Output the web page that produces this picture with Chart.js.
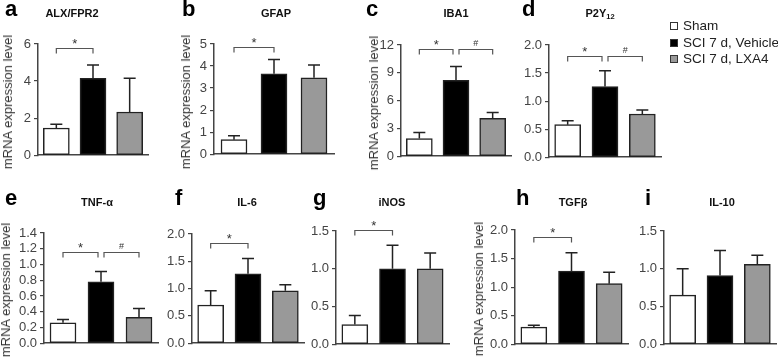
<!DOCTYPE html>
<html>
<head>
<meta charset="utf-8">
<title>mRNA expression</title>
<script src="https://cdn.jsdelivr.net/npm/chart.js"></script>
<style>
  * { margin: 0; padding: 0; box-sizing: border-box; }
  html, body { width: 778px; height: 360px; overflow: hidden; background: #fff;
    font-family: "Liberation Sans", Arial, sans-serif; }
  #fig { position: relative; width: 778px; height: 360px; }
  canvas { position: absolute; }
  .lbl { position: absolute; font-weight: bold; font-size: 22px; line-height: 22px; color: #000; }
  .ttl { position: absolute; font-weight: bold; font-size: 11px; line-height: 11px; color: #111;
    transform: translateX(-50%); white-space: nowrap; }
  .ttl sub { font-size: 7.5px; vertical-align: -2px; }
  .ytl { position: absolute; font-size: 13px; line-height: 14px; color: #333; white-space: nowrap;
    transform: translate(-50%, -50%) rotate(-90deg); }
  .leg { position: absolute; left: 670px; font-size: 13.5px; line-height: 14px; color: #222; white-space: nowrap; }
  .leg i { display: inline-block; width: 8px; height: 8px; border: 1px solid #333; margin-right: 5px; }
</style>
</head>
<body>
<div id="fig"></div>

<script>
  // groups (legend)
  const groups = ['Sham', 'SCI 7 d, Vehicle', 'SCI 7 d, LXA4'];

  // mean and SEM per gene, order = groups
  const alxMean  = [1.47, 4.15, 2.33], alxSem  = [0.20, 0.72, 1.82];
  const gfapMean = [0.66, 3.65, 3.47], gfapSem = [0.18, 0.65, 0.58];
  const ibaMean  = [1.90, 8.20, 4.10], ibaSem  = [0.65, 1.47, 0.62];
  const p2yMean  = [0.58, 1.26, 0.77], p2ySem  = [0.07, 0.28, 0.07];
  const tnfMean  = [0.26, 0.78, 0.33], tnfSem  = [0.04, 0.13, 0.11];
  const il6Mean  = [0.70, 1.27, 0.96], il6Sem  = [0.26, 0.28, 0.11];
  const inosMean = [0.26, 1.00, 1.00], inosSem = [0.12, 0.31, 0.21];
  const tgfMean  = [0.30, 1.28, 1.06], tgfSem  = [0.03, 0.32, 0.20];
  const il10Mean = [0.65, 0.91, 1.06], il10Sem = [0.35, 0.33, 0.12];

  const geneNames = ['ALX/FPR2', 'GFAP', 'IBA1', 'P2Y<sub>12</sub>', 'TNF-α', 'IL-6', 'iNOS', 'TGFβ', 'IL-10'];
  const yMax  = [6, 5, 12, 2, 1.4, 2, 1.5, 2, 1.5];
  const yStep = [2, 1, 3, 0.5, 0.2, 0.5, 0.5, 0.5, 0.5];

  // significance brackets: [from, to, symbol, height]
  const sigMarks = [
    [[0, 1, '*', 5.8]],
    [[0, 1, '*', 4.85]],
    [[0, 1, '*', 11.6], [1, 2, '#', 11.6]],
    [[0, 1, '*', 1.8], [1, 2, '#', 1.8]],
    [[0, 1, '*', 1.16], [1, 2, '#', 1.16]],
    [[0, 1, '*', 1.84]],
    [[0, 1, '*', 1.51]],
    [[0, 1, '*', 1.87]],
    []
  ];

  const means = [alxMean, gfapMean, ibaMean, p2yMean, tnfMean, il6Mean, inosMean, tgfMean, il10Mean];
  const sems  = [alxSem, gfapSem, ibaSem, p2ySem, tnfSem, il6Sem, inosSem, tgfSem, il10Sem];
  const fills = ['#ffffff', '#000000', '#999999'];

  // panel placement: axis x, bar pitch, px of max, px of zero, y-title centre, letter x, title centre, row
  const panels = [
    { k: 'a', x0: 38,  p: 36.5, yT: 44,  yB: 162,   yt: 8,    lx: 5,   tx: 72,  row: 0 },
    { k: 'b', x0: 214, p: 40,   yT: 44,  yB: 161,   yt: 186,  lx: 182, tx: 276, row: 0 },
    { k: 'c', x0: 401, p: 36.6, yT: 45,  yB: 162.5, yt: 374,  lx: 366, tx: 456, row: 0 },
    { k: 'd', x0: 549, p: 37.2, yT: 45,  yB: 163.5, yt: null, lx: 522, tx: 600, row: 0 },
    { k: 'e', x0: 44,  p: 38,   yT: 233, yB: 349.5, yt: 6,    lx: 5,   tx: 97,  row: 1 },
    { k: 'f', x0: 192, p: 37.2, yT: 234, yB: 349.5, yt: null, lx: 175, tx: 247, row: 1 },
    { k: 'g', x0: 336, p: 37.6, yT: 231, yB: 350.5, yt: null, lx: 313, tx: 392, row: 1 },
    { k: 'h', x0: 515, p: 37.5, yT: 230, yB: 350.5, yt: 479,  lx: 516, tx: 573, row: 1 },
    { k: 'i', x0: 664, p: 37.2, yT: 231, yB: 351,   yt: null, lx: 645, tx: 722, row: 1 }
  ];

  const fig = document.getElementById('fig');

  function addText(cls, html, left, top) {
    const d = document.createElement('div');
    d.className = cls;
    d.innerHTML = html;
    d.style.left = left + 'px';
    d.style.top = top + 'px';
    fig.appendChild(d);
  }

  // error bars + brackets
  function overlay(sem, marks) {
    return {
      id: 'overlay',
      afterDatasetsDraw(chart) {
        const ctx = chart.ctx;
        const ys = chart.scales.y;
        const bars = chart.getDatasetMeta(0).data;
        const vals = chart.data.datasets[0].data;
        ctx.save();
        ctx.strokeStyle = '#222';
        ctx.lineWidth = 1.5;
        bars.forEach((b, i) => {
          const top = ys.getPixelForValue(vals[i] + sem[i]);
          ctx.beginPath();
          ctx.moveTo(b.x, b.y);
          ctx.lineTo(b.x, top);
          ctx.moveTo(b.x - 6, top);
          ctx.lineTo(b.x + 6, top);
          ctx.stroke();
        });
        ctx.strokeStyle = '#555';
        ctx.lineWidth = 1.2;
        ctx.fillStyle = '#333';
        ctx.textAlign = 'center';
        marks.forEach(([a, c, sym, v]) => {
          let xa = bars[a].x, xc = bars[c].x;
          if (marks.some(m => m[1] === a)) xa += 3;
          if (marks.some(m => m[0] === c)) xc -= 3;
          const y = Math.round(ys.getPixelForValue(v)) + 0.5;
          ctx.beginPath();
          ctx.moveTo(xa, y + 5);
          ctx.lineTo(xa, y);
          ctx.lineTo(xc, y);
          ctx.lineTo(xc, y + 5);
          ctx.stroke();
          if (sym === '*') {
            ctx.font = '13px "Liberation Sans", Arial';
            ctx.fillText('*', (xa + xc) / 2, y - 1);
          } else {
            ctx.font = '9px "Liberation Sans", Arial';
            ctx.fillText(sym, (xa + xc) / 2, y - 4);
          }
        });
        ctx.restore();
      }
    };
  }

  const padT = 30, padB = 4, padR = 4, yW = 40;

  panels.forEach((p, n) => {
    const left = Math.round(p.x0) - yW;
    const top = Math.round(p.yT) - padT;
    const W = yW + Math.round(3 * p.p) + padR;
    const H = padT + Math.round(p.yB - p.yT) + padB;

    const cv = document.createElement('canvas');
    cv.width = W; cv.height = H;
    cv.style.left = left + 'px';
    cv.style.top = top + 'px';
    cv.style.width = W + 'px';
    cv.style.height = H + 'px';
    fig.appendChild(cv);

    const dec = yStep[n] < 1;
    new Chart(cv, {
      type: 'bar',
      data: {
        labels: groups,
        datasets: [{
          data: means[n],
          backgroundColor: fills,
          borderColor: '#222',
          borderWidth: 1.5,
          borderSkipped: false,
          barThickness: 26
        }]
      },
      options: {
        responsive: false,
        animation: false,
        events: [],
        layout: { padding: { top: padT, right: padR, bottom: padB, left: 0 } },
        plugins: { legend: { display: false }, tooltip: { enabled: false } },
        scales: {
          x: {
            ticks: { display: false },
            grid: { display: false, drawTicks: false },
            border: { color: '#444', width: 1.5 },
            afterFit: s => { s.height = 0; }
          },
          y: {
            min: 0, max: yMax[n],
            ticks: {
              stepSize: yStep[n], autoSkip: false, color: '#444', padding: 3,
              font: { size: 13, family: '"Liberation Sans", Arial' },
              callback: v => dec ? v.toFixed(1) : String(v)
            },
            grid: { drawOnChartArea: false, tickLength: 4, color: '#444', lineWidth: 1.2 },
            border: { color: '#444', width: 1.5 },
            afterFit: s => { s.width = yW; }
          }
        }
      },
      plugins: [overlay(sems[n], sigMarks[n])]
    });

    const base = p.row === 0 ? 17 : 206;
    addText('lbl', p.k, p.lx, base - 18.6);
    addText('ttl', geneNames[n], p.tx, (p.row === 0 ? 13 : 202) - 5.5);
    if (p.yt != null) addText('ytl', 'mRNA expression level', p.yt, (p.yT + p.yB) / 2 - 1);
  });

  // legend
  const legY = [26, 43, 59];
  groups.forEach((g, i) => {
    addText('leg', '<i style="background:' + fills[i] + '"></i>' + g, 670, legY[i] - 7);
  });
</script>
</body>
</html>
